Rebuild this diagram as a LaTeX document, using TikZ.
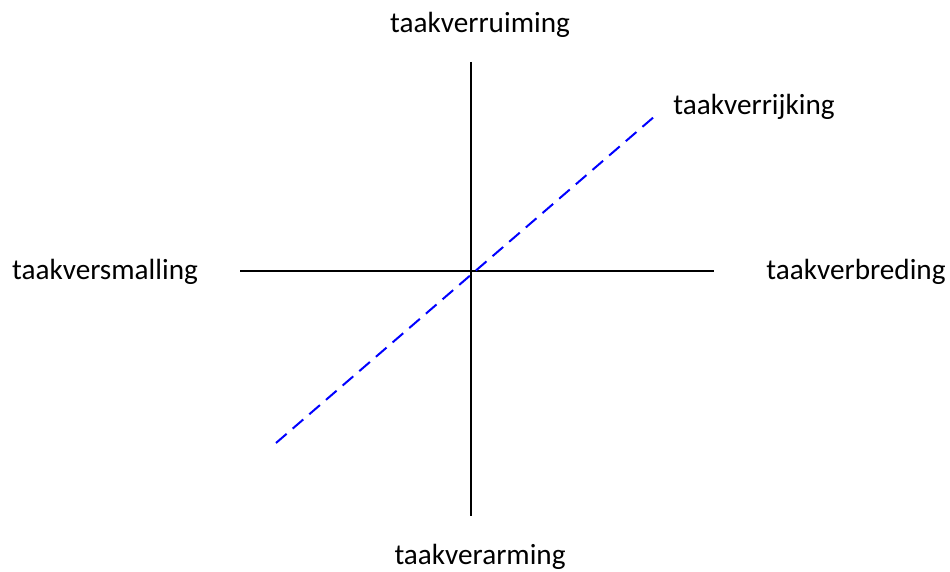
\documentclass[tikz,border=0pt]{standalone}
\usepackage{fontspec}
\setmainfont{Carlito}
\begin{document}
\begin{tikzpicture}[x=0.5pt, y=-0.5pt, line cap=butt]
	% Window bounds (pixel grid of the original)
	\useasboundingbox (0,0) rectangle (950,572);
	
	% Styles
	\tikzset{
		axis/.style={black, line width=1pt},
		diag/.style={blue, line width=1pt, dash pattern=on 7pt off 4pt},
		lab/.style={font=\fontsize{14.6}{17}\selectfont, inner sep=0pt}
	}
	
	% End points of the axes
	\coordinate (top) at (471, 62);
	\coordinate (bot) at (471, 516);
	\coordinate (lft) at (240, 271);
	\coordinate (rgt) at (714, 271);
	\coordinate (dlo) at (276, 443);
	\coordinate (dhi) at (655, 116);
	
	% Axes
	\draw[axis] (top) -- (bot);
	\draw[axis] (lft) -- (rgt);
	
	% Diagonal
	\draw[diag] (dlo) -- (dhi);
	
	% Labels
	\node[lab, anchor=base] (ruim) at (480, 33) {taakverruiming};
	\node[lab, anchor=base west] (rijk) at (673, 115) {taakverrijking};
	\node[lab, anchor=base] (smal) at (105, 280) {taakversmalling};
	\node[lab, anchor=base] (bred) at (856, 280) {taakverbreding};
	\node[lab, anchor=base] (arm) at (480, 565) {taakverarming};
\end{tikzpicture}
\end{document}
